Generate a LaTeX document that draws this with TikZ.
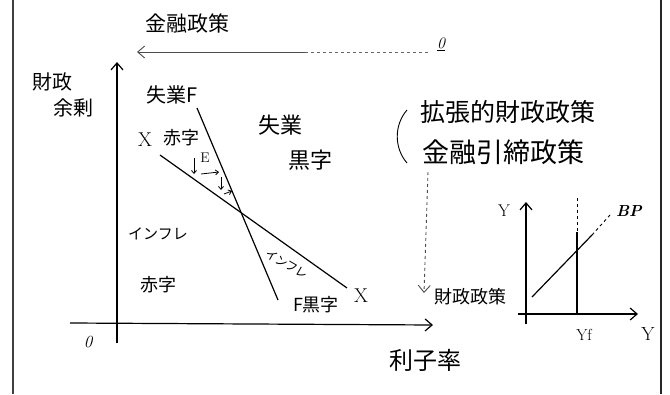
\documentclass[tikz,border=0pt]{standalone}
\usepackage{fontspec}
\newfontfamily\jp{Noto Sans CJK JP}
\usetikzlibrary{arrows.meta}
\begin{document}
\begin{tikzpicture}[x=1pt,y=-1pt,line width=1.2pt,
  lbl/.style={font=\jp\fontsize{#1}{#1}\selectfont,inner sep=0pt},
  lbl/.default=18,
  lat/.style={font=\fontsize{#1}{#1}\selectfont\itshape,inner sep=0pt},
  barb/.style={-{Straight Barb[length=7pt,width=12pt]}},
  smallbarb/.style={line width=0.8pt,-{Straight Barb[length=3pt,width=5pt]}},
  thin/.style={line width=0.9pt}]
\useasboundingbox (0,0) rectangle (670,394);
% borders
\coordinate (bl1) at (13,0); \coordinate (bl2) at (13,394);
\coordinate (br1) at (661,0); \coordinate (br2) at (661,394);
\draw[line width=2pt,black!75] (bl1) -- (bl2);
\draw[line width=2pt,black!85] (br1) -- (br2);
% monetary policy arrow
\node[lbl=21] (mp) at (187,23) {金融政策};
\node[lat=16] (zeroT) at (441,44) {\underline{0}};
\coordinate (dashE) at (428,52);
\coordinate (solidE) at (305,52);
\coordinate (tipL) at (137,52);
\draw[thin,dashed,black!60] (dashE) -- (solidE);
\draw[thin,barb,black!70] (solidE) -- (tipL);
% main axes
\coordinate (yb) at (117,343); \coordinate (yt) at (117,62);
\coordinate (xl) at (70,323); \coordinate (xr) at (433,325);
\draw[barb] (yb) -- (yt);
\draw[barb] (xl) -- (xr);
\node[lat=17] (zero) at (88,342) {0};
\node[lbl=20] (zaisei) at (52,82) {財政};
\node[lbl=20] (yojo) at (73,108) {余剰};
\node[lbl=24] (rishi) at (425,360) {利子率};
% curves
\coordinate (X1) at (160,155); \coordinate (X2) at (347,288);
\coordinate (F1) at (197,108); \coordinate (F2) at (278,300);
\draw (X1) -- (X2);
\draw (F1) -- (F2);
% region labels
\node[lbl=20] (shitsugyoF) at (172,95) {失業F};
\node[lat=20,font=\fontsize{20}{20}\selectfont] (Xl) at (145,140) {X};
\node[lbl=18] (akaji1) at (181,138) {赤字};
\node[lat=14,font=\fontsize{14}{14}\selectfont] (E) at (205,158) {E};
\node[lbl=22] (shitsugyo) at (280,125) {失業};
\node[lbl=22] (kuroji) at (310,160) {黒字};
\node[lbl=15] (infl1) at (158,234) {インフレ};
\node[lbl=18] (akaji2) at (158,285) {赤字};
\node[lbl=12,rotate=-30] (infl2) at (287,264) {インフレ};
\node[lbl=18] (Fkuro) at (316,305) {F黒字};
\node[lat=20,font=\fontsize{20}{20}\selectfont] (Xr) at (361,296) {X};
% adjustment staircase
\coordinate (s1) at (194,158); \coordinate (s2) at (194,174);
\coordinate (s3) at (201,174); \coordinate (s4) at (219,172);
\coordinate (s5) at (221,177); \coordinate (s6) at (221,190);
\coordinate (s7) at (224,194); \coordinate (s8) at (232,191);
\draw[smallbarb] (s1) -- (s2);
\draw[smallbarb] (s3) -- (s4);
\draw[smallbarb] (s5) -- (s6);
\draw[smallbarb] (s7) -- (s8);
% policy texts
\coordinate (pb1) at (407,110); \coordinate (pb2) at (407,163);
\draw[thin] (pb1) .. controls (394,125) and (394,148) .. (pb2);
\node[lbl=25] (kakucho) at (508,112) {拡張的財政政策};
\node[lbl=27] (hikishime) at (503,152) {金融引締政策};
\coordinate (vd1) at (428,172); \coordinate (vd2) at (424,293);
\draw[thin,dashed,black!70,barb] (vd1) -- (vd2);
\node[lbl=18] (zaiseiseisaku) at (470,297) {財政政策};
% small graph
\coordinate (syb) at (526,324); \coordinate (syt) at (526,202);
\coordinate (sxl) at (518,314); \coordinate (sxr) at (638,314);
\draw[barb] (syb) -- (syt);
\draw[barb] (sxl) -- (sxr);
\node[lat=16,font=\fontsize{17}{17}\selectfont] (sY) at (504,211) {Y};
\coordinate (yf1) at (577,198); \coordinate (yf2) at (577,232); \coordinate (yf3) at (577,314);
\draw[thin,dashed] (yf1) -- (yf2);
\draw (yf2) -- (yf3);
\node[font=\fontsize{16}{16}\selectfont,inner sep=0pt] (Yf) at (584,335) {Yf};
\node[font=\fontsize{19}{19}\selectfont,inner sep=0pt] (Yr) at (648,334) {Y};
\coordinate (bp1) at (532,297); \coordinate (bp2) at (592,235); \coordinate (bp3) at (610,215);
\draw (bp1) -- (bp2);
\draw[thin,dashed] (bp2) -- (bp3);
\node[font=\fontsize{16}{16}\selectfont\bfseries\itshape,inner sep=0pt] (BP) at (629,211) {BP};
\end{tikzpicture}
\end{document}
